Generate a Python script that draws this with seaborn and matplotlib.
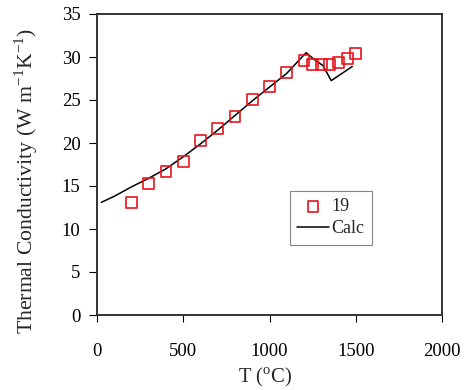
import matplotlib
matplotlib.use("Agg")
import matplotlib.pyplot as plt
import seaborn as sns
import pandas as pd

# Measured data (series "19")
T_meas = [200, 300, 400, 500, 600, 700, 800, 900, 1000, 1100, 1200, 1250, 1300, 1350, 1400, 1450, 1500]
k_meas = [13.1, 15.3, 16.7, 17.8, 20.3, 21.7, 23.1, 25.1, 26.6, 28.2, 29.6, 29.1, 29.1, 29.15, 29.4, 29.8, 30.4]

# Calculated curve ("Calc")
T_calc = [25, 100, 200, 300, 400, 500, 600, 700, 800, 900, 1000, 1100, 1212, 1260, 1310, 1358, 1480]
k_calc = [13.1, 13.8, 14.9, 15.9, 17.0, 18.4, 19.9, 21.5, 23.2, 24.9, 26.5, 28.1, 30.5, 29.7, 29.0, 27.25, 28.9]

x_ticks = [0, 500, 1000, 1500, 2000]
y_ticks = [0, 5, 10, 15, 20, 25, 30, 35]

sns.set_theme(style="ticks")
plt.rcParams['font.family'] = ['Liberation Serif', 'DejaVu Serif']
plt.rcParams['mathtext.fontset'] = 'custom'
plt.rcParams['mathtext.rm'] = 'Liberation Serif'

df_meas = pd.DataFrame({"T": T_meas, "k": k_meas})
df_calc = pd.DataFrame({"T": T_calc, "k": k_calc})

fig = plt.figure(figsize=(4.66, 3.9), dpi=100)
ax = fig.add_axes([97/466, 1 - 315/390, (442-97)/466, (315-14)/390])

sns.lineplot(data=df_calc, x="T", y="k", ax=ax, color="black", linewidth=1.1, label="Calc", sort=False)
sns.scatterplot(data=df_meas, x="T", y="k", ax=ax, marker="s", s=62, facecolor="none",
                edgecolor="#e8141c", linewidth=1.2, label="19", zorder=3)

ax.set_xlim(0, 2000)
ax.set_ylim(0, 35)
ax.set_xticks(x_ticks)
ax.set_yticks(y_ticks)
ax.tick_params(axis='both', labelsize=13.5, colors='black', direction='out', width=0.8)
ax.tick_params(axis='x', length=5, pad=15)
ax.tick_params(axis='y', length=5.8, pad=6)
for s in ax.spines.values():
    s.set_color('#333333')
    s.set_linewidth(1.4)
    s.set_visible(True)

ax.set_xlabel(r"T ($^{\mathregular{o}}$C)", fontsize=14.8)
ax.xaxis.set_label_coords((265-97)/345, (315-366)/301)
ax.set_ylabel(r"Thermal Conductivity (W m$^{\mathregular{-1}}$K$^{\mathregular{-1}}$)", fontsize=15.7)
ax.yaxis.set_label_coords((40-97)/345, 1 - (181-14)/301)

handles, labels = ax.get_legend_handles_labels()
order = [labels.index("19"), labels.index("Calc")]
leg = ax.legend([handles[i] for i in order], [labels[i] for i in order],
                loc="upper left", bbox_to_anchor=((290-97)/345, 1 - (190.7-14)/301),
                frameon=True, fancybox=False, edgecolor="#666666", fontsize=13,
                handlelength=1.75, handletextpad=0.15, borderpad=0.4, labelspacing=0.3,
                borderaxespad=0)
leg.get_frame().set_linewidth(0.8)

fig.savefig("out.png", dpi=100)
